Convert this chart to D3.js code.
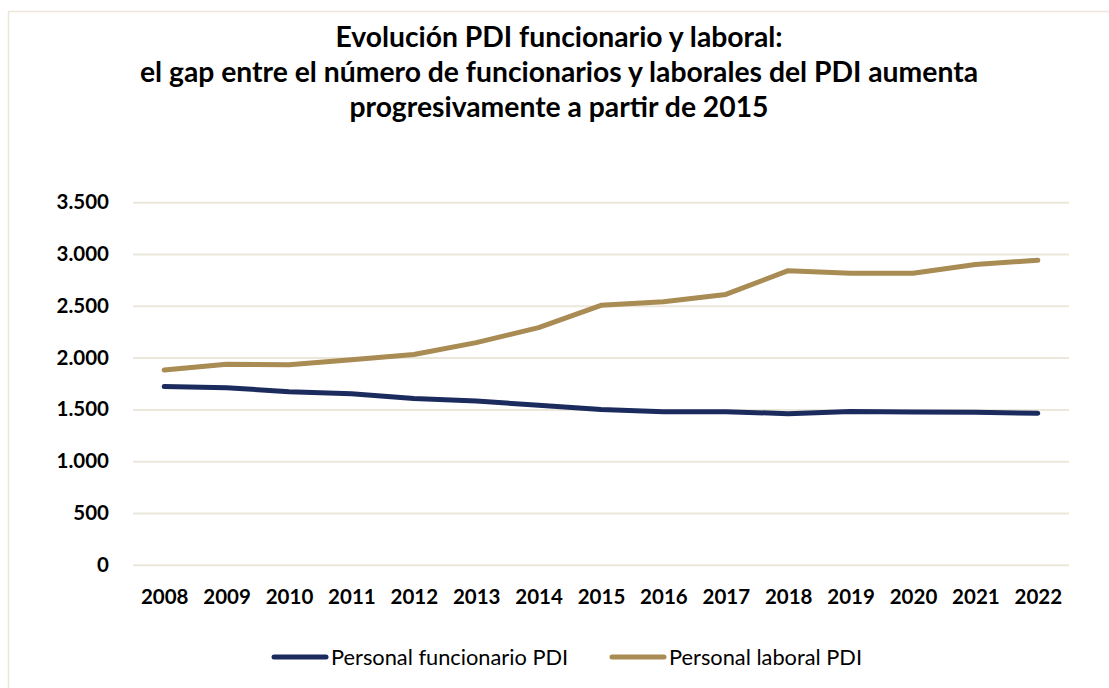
<!DOCTYPE html>
<html>
<head>
<meta charset="utf-8">
<script src="https://cdn.jsdelivr.net/npm/d3@7"></script>
<style>
  body { margin: 0; background: #fff; }
  svg text { font-family: Lato, "Open Sans", sans-serif; }
</style>
</head>
<body>
<div id="chart"></div>
<script>
// data
var years = ["2008", "2009", "2010", "2011", "2012", "2013", "2014", "2015",
             "2016", "2017", "2018", "2019", "2020", "2021", "2022"];
var funcionario = [1720, 1710, 1670, 1650, 1605, 1580, 1540, 1500,
                   1478, 1478, 1458, 1480, 1475, 1472, 1462];
var laboral = [1880, 1935, 1930, 1980, 2030, 2145, 2290, 2505,
               2540, 2610, 2840, 2815, 2815, 2900, 2940];
var yTicks = [0, 500, 1000, 1500, 2000, 2500, 3000, 3500];
var seriesNames = ["Personal funcionario PDI", "Personal laboral PDI"];
var titleLines = ["Evolución PDI funcionario y laboral:",
                  "el gap entre el número de funcionarios y laborales del PDI aumenta",
                  "progresivamente a partir de 2015"];

var width = 1109, height = 688;
var navy = "#1b2b5e", gold = "#a98b54", grid = "#ece7db";

var svg = d3.select("#chart").append("svg")
  .attr("width", width)
  .attr("height", height);

// outer frame
svg.append("rect")
  .attr("x", 8.5).attr("y", 11.5)
  .attr("width", 1120).attr("height", 700)
  .attr("fill", "#fff")
  .attr("stroke", grid).attr("stroke-width", 1.5);

// title
svg.append("g").selectAll("text")
  .data(titleLines)
  .join("text")
  .attr("x", 559)
  .attr("y", function(d, i) { return 47 + i * 35; })
  .attr("text-anchor", "middle")
  .attr("font-size", 28.3)
  .attr("font-weight", "bold")
  .attr("fill", "#000")
  .text(function(d) { return d; });

var x = d3.scalePoint()
  .domain(years)
  .range([133, 1069])
  .padding(0.5);

var y = d3.scaleLinear()
  .domain([0, 3500])
  .range([564.7, 202.3]);

var es = d3.formatLocale({decimal: ",", thousands: ".", grouping: [3], currency: ["", " €"]});
var fmt = es.format(",d");

// y axis with gridlines
var yAxis = svg.append("g")
  .attr("transform", "translate(133,0)")
  .call(d3.axisLeft(y).tickValues(yTicks).tickFormat(fmt).tickSize(-936).tickPadding(24));
yAxis.select(".domain").remove();
yAxis.selectAll(".tick line").attr("stroke", grid).attr("stroke-width", 2);
yAxis.selectAll(".tick text")
  .attr("font-size", 20.5).attr("font-weight", "bold").attr("fill", "#000")
  .attr("font-family", "Lato, sans-serif");

// x axis
var xAxis = svg.append("g")
  .attr("transform", "translate(0,564.7)")
  .call(d3.axisBottom(x).tickSize(0).tickPadding(0));
xAxis.select(".domain").remove();
xAxis.selectAll(".tick text")
  .attr("y", 39.5).attr("dy", null)
  .attr("font-size", 20.5).attr("font-weight", "bold").attr("fill", "#000")
  .attr("font-family", "Lato, sans-serif");

var line = d3.line()
  .x(function(d, i) { return x(years[i]); })
  .y(function(d) { return y(d); });

svg.append("path")
  .datum(funcionario)
  .attr("fill", "none")
  .attr("stroke", navy)
  .attr("stroke-width", 5)
  .attr("stroke-linecap", "round")
  .attr("stroke-linejoin", "round")
  .attr("d", line);

svg.append("path")
  .datum(laboral)
  .attr("fill", "none")
  .attr("stroke", gold)
  .attr("stroke-width", 5)
  .attr("stroke-linecap", "round")
  .attr("stroke-linejoin", "round")
  .attr("d", line);

// legend
var legendPos = [274, 612];
var legendColors = [navy, gold];
var legend = svg.append("g").selectAll("g")
  .data(seriesNames)
  .join("g")
  .attr("transform", function(d, i) { return "translate(" + legendPos[i] + ",657)"; });
legend.append("line")
  .attr("x1", 0).attr("x2", 52)
  .attr("stroke", function(d, i) { return legendColors[i]; })
  .attr("stroke-width", 5)
  .attr("stroke-linecap", "round");
legend.append("text")
  .attr("x", 57)
  .attr("dy", "0.35em")
  .attr("font-size", 21.8)
  .attr("fill", "#000")
  .text(function(d) { return d; });
</script>
</body>
</html>
